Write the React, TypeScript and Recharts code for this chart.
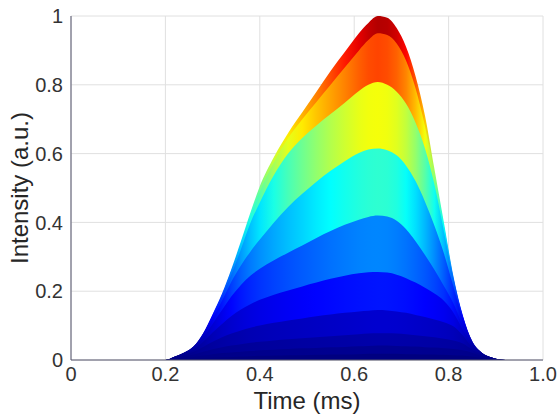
import React from 'react';
import { AreaChart, Area, XAxis, YAxis, CartesianGrid } from 'recharts';

const TIME = [0, 0.2, 0.22, 0.24, 0.26, 0.28, 0.30, 0.32, 0.34, 0.36, 0.38, 0.40, 0.43, 0.46, 0.49, 0.52, 0.55, 0.58, 0.61, 0.63, 0.65, 0.67, 0.69, 0.71, 0.73, 0.75, 0.77, 0.79, 0.81, 0.83, 0.85, 0.87, 0.89, 0.91, 0.93, 1.0];

const LAYER_1 = [0, 0, 0.010, 0.022, 0.040, 0.078, 0.133, 0.193, 0.265, 0.345, 0.428, 0.505, 0.590, 0.660, 0.720, 0.780, 0.840, 0.895, 0.950, 0.980, 1.000, 0.995, 0.965, 0.910, 0.825, 0.710, 0.555, 0.400, 0.245, 0.130, 0.055, 0.022, 0.008, 0.001, 0, 0];
const LAYER_2 = [0, 0, 0.010, 0.022, 0.040, 0.077, 0.131, 0.190, 0.260, 0.338, 0.418, 0.490, 0.575, 0.645, 0.700, 0.750, 0.800, 0.850, 0.900, 0.930, 0.950, 0.945, 0.920, 0.870, 0.790, 0.680, 0.540, 0.390, 0.240, 0.128, 0.054, 0.022, 0.008, 0.001, 0, 0];
const LAYER_3 = [0, 0, 0.010, 0.021, 0.039, 0.075, 0.127, 0.184, 0.250, 0.322, 0.398, 0.458, 0.538, 0.600, 0.645, 0.682, 0.715, 0.748, 0.782, 0.800, 0.808, 0.800, 0.780, 0.745, 0.690, 0.615, 0.510, 0.375, 0.235, 0.125, 0.053, 0.021, 0.008, 0.001, 0, 0];
const LAYER_4 = [0, 0, 0.009, 0.020, 0.037, 0.071, 0.120, 0.172, 0.228, 0.275, 0.315, 0.350, 0.400, 0.445, 0.483, 0.518, 0.550, 0.578, 0.602, 0.612, 0.615, 0.610, 0.595, 0.565, 0.520, 0.460, 0.390, 0.310, 0.215, 0.120, 0.051, 0.020, 0.007, 0.001, 0, 0];
const LAYER_5 = [0, 0, 0.009, 0.019, 0.034, 0.064, 0.105, 0.145, 0.185, 0.218, 0.245, 0.265, 0.290, 0.312, 0.333, 0.355, 0.375, 0.393, 0.408, 0.416, 0.420, 0.417, 0.405, 0.380, 0.345, 0.305, 0.262, 0.215, 0.165, 0.100, 0.047, 0.019, 0.007, 0.001, 0, 0];
const LAYER_6 = [0, 0, 0.008, 0.017, 0.030, 0.053, 0.080, 0.105, 0.128, 0.147, 0.162, 0.175, 0.190, 0.202, 0.214, 0.225, 0.236, 0.245, 0.252, 0.255, 0.256, 0.254, 0.248, 0.238, 0.225, 0.210, 0.193, 0.172, 0.138, 0.088, 0.042, 0.018, 0.007, 0.001, 0, 0];
const LAYER_7 = [0, 0, 0.007, 0.014, 0.024, 0.038, 0.053, 0.066, 0.077, 0.086, 0.094, 0.100, 0.108, 0.115, 0.121, 0.127, 0.132, 0.137, 0.141, 0.143, 0.145, 0.144, 0.141, 0.137, 0.131, 0.125, 0.118, 0.110, 0.098, 0.072, 0.037, 0.016, 0.006, 0.001, 0, 0];
const LAYER_8 = [0, 0, 0.005, 0.010, 0.016, 0.024, 0.031, 0.037, 0.042, 0.046, 0.050, 0.053, 0.057, 0.060, 0.063, 0.066, 0.069, 0.072, 0.075, 0.077, 0.078, 0.078, 0.077, 0.075, 0.072, 0.069, 0.066, 0.062, 0.057, 0.048, 0.030, 0.014, 0.005, 0.001, 0, 0];
const LAYER_9 = [0, 0, 0.003, 0.006, 0.009, 0.013, 0.017, 0.020, 0.022, 0.024, 0.026, 0.028, 0.030, 0.032, 0.034, 0.035, 0.037, 0.038, 0.040, 0.041, 0.042, 0.042, 0.041, 0.040, 0.039, 0.037, 0.036, 0.034, 0.032, 0.028, 0.021, 0.011, 0.004, 0.001, 0, 0];
const LAYER_10 = [0, 0, 0.002, 0.003, 0.004, 0.006, 0.007, 0.008, 0.009, 0.010, 0.011, 0.012, 0.013, 0.014, 0.014, 0.015, 0.016, 0.016, 0.017, 0.018, 0.018, 0.018, 0.018, 0.017, 0.017, 0.016, 0.016, 0.015, 0.014, 0.013, 0.010, 0.006, 0.003, 0.001, 0, 0];

const LAYERS = [LAYER_1, LAYER_2, LAYER_3, LAYER_4, LAYER_5, LAYER_6, LAYER_7, LAYER_8, LAYER_9, LAYER_10];

const X_TICKS = [0, 0.2, 0.4, 0.6, 0.8, 1];
const X_TICK_LABELS = ['0', '0.2', '0.4', '0.6', '0.8', '1.0'];
const Y_TICKS = [0, 0.2, 0.4, 0.6, 0.8, 1];
const Y_TICK_LABELS = ['0', '0.2', '0.4', '0.6', '0.8', '1'];

const FONT = '"Liberation Sans", Arial, Helvetica, sans-serif';

function clamp01(v: number) {
  return Math.max(0, Math.min(1, v));
}

function jet(v: number) {
  const x = clamp01(v);
  const r = clamp01(1.5 - Math.abs(4 * x - 3));
  const g = clamp01(1.5 - Math.abs(4 * x - 2));
  const b = clamp01(1.5 - Math.abs(4 * x - 1));
  return `rgb(${Math.round(r * 255)},${Math.round(g * 255)},${Math.round(b * 255)})`;
}

const data = TIME.map((t, i) => {
  const row: Record<string, number> = { t };
  LAYERS.forEach((layer, k) => {
    row['l' + k] = layer[i];
  });
  return row;
});

export default function App() {
  return (
    <div style={{ position: 'absolute', left: 0, top: 0, width: 557, height: 418, background: '#fff' }}>
      <AreaChart width={557} height={418} data={data} margin={{ top: 16, right: 14, bottom: 0, left: 0 }}>
        <defs>
          {LAYERS.map((layer, k) => {
            const next = LAYERS[k + 1];
            return (
              <linearGradient id={'band' + k} key={k} x1="0" y1="0" x2="1" y2="0">
                {TIME.map((t, i) => (
                  <stop key={i} offset={t} stopColor={jet(next ? next[i] : 0)} />
                ))}
              </linearGradient>
            );
          })}
        </defs>
        <CartesianGrid stroke="#e0e0e0" />
        <XAxis
          type="number"
          dataKey="t"
          domain={[0, 1]}
          ticks={X_TICKS}
          interval={0}
          tickFormatter={(v: number) => X_TICK_LABELS[X_TICKS.indexOf(v)]}
          height={58}
          tickSize={0}
          tickMargin={7}
          tickLine={false}
          axisLine={{ stroke: '#55556d' }}
          tick={{ fill: '#333', fontSize: 20, fontFamily: FONT }}
          label={{ value: 'Time (ms)', position: 'insideBottom', offset: 9, fill: '#262626', fontSize: 24, fontFamily: FONT }}
        />
        <YAxis
          type="number"
          domain={[0, 1]}
          ticks={Y_TICKS}
          interval={0}
          tickFormatter={(v: number) => Y_TICK_LABELS[Y_TICKS.indexOf(v)]}
          width={71}
          tickSize={0}
          tickMargin={8}
          tickLine={false}
          axisLine={{ stroke: '#55556d' }}
          tick={{ fill: '#333', fontSize: 20, fontFamily: FONT }}
          label={{ value: 'Intensity (a.u.)', angle: -90, position: 'center', dx: -16.5, fill: '#262626', fontSize: 24, fontFamily: FONT }}
        />
        {LAYERS.map((layer, k) => (
          <Area
            key={k}
            dataKey={'l' + k}
            type="monotone"
            stroke="none"
            fill={`url(#band${k})`}
            fillOpacity={1}
            isAnimationActive={false}
            dot={false}
            activeDot={false}
          />
        ))}
      </AreaChart>
    </div>
  );
}
